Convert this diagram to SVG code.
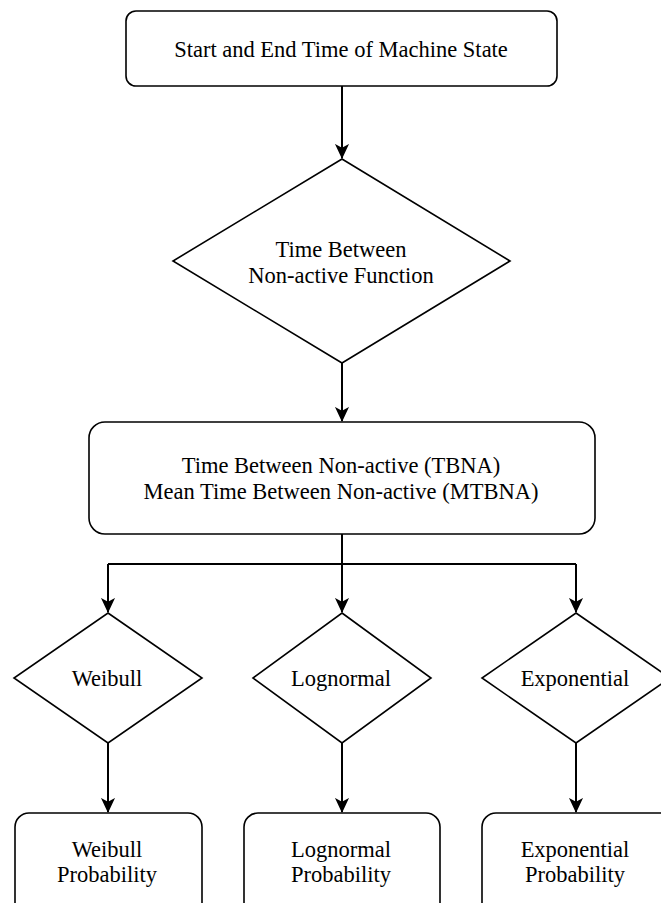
<svg xmlns="http://www.w3.org/2000/svg" width="661" height="903" viewBox="0 0 661 903">
<defs>
<marker id="arr" markerWidth="15" markerHeight="17" refX="15" refY="7.5" orient="auto" markerUnits="userSpaceOnUse" viewBox="0 0 16 15">
<path d="M0,0 L16,7.5 L0,15 L4,7.5 Z" fill="#000"/>
</marker>
</defs>
<style>
.n{fill:#fff;stroke:#000;stroke-width:1.6}
.t{font-family:"Liberation Serif","Times New Roman",serif;font-size:22.5px;fill:#000;text-anchor:middle}
.c{fill:none;stroke:#000;stroke-width:2}
</style>
<rect width="661" height="903" fill="#fff"/>
<g id="connectors">
<path class="c" d="M342,86 V158" marker-end="url(#arr)"/>
<path class="c" d="M342,363 V421" marker-end="url(#arr)"/>
<path class="c" d="M342,534 V612" marker-end="url(#arr)"/>
<path class="c" d="M108,564 H576"/>
<path class="c" d="M108,564 V612" marker-end="url(#arr)"/>
<path class="c" d="M576,564 V612" marker-end="url(#arr)"/>
<path class="c" d="M108,743 V812" marker-end="url(#arr)"/>
<path class="c" d="M342,743 V812" marker-end="url(#arr)"/>
<path class="c" d="M576,743 V812" marker-end="url(#arr)"/>
</g>
<g id="start">
<rect class="n" x="126" y="11" width="431" height="75" rx="10"/>
<text class="t" x="341" y="57">Start and End Time of Machine State</text>
</g>
<g id="tbnaFunction">
<polygon class="n" points="342,159 510,261 342,363 173,261"/>
<text class="t" x="341" y="257">Time Between</text>
<text class="t" x="341" y="283">Non-active Function</text>
</g>
<g id="tbna">
<rect class="n" x="89" y="422" width="506" height="112" rx="16"/>
<text class="t" x="341" y="473">Time Between Non-active (TBNA)</text>
<text class="t" x="341" y="499">Mean Time Between Non-active (MTBNA)</text>
</g>
<g id="weibull">
<polygon class="n" points="108,613 202,678 108,743 14,678"/>
<text class="t" x="107" y="686">Weibull</text>
</g>
<g id="lognormal">
<polygon class="n" points="342,613 431,678 342,743 253,678"/>
<text class="t" x="341" y="686">Lognormal</text>
</g>
<g id="exponential">
<polygon class="n" points="576,613 670,678 576,743 482,678"/>
<text class="t" x="575" y="686">Exponential</text>
</g>
<g id="weibullProb">
<rect class="n" x="15" y="813" width="187" height="110" rx="14"/>
<text class="t" x="107" y="857">Weibull</text>
<text class="t" x="107" y="882">Probability</text>
</g>
<g id="lognormalProb">
<rect class="n" x="244" y="813" width="196" height="110" rx="14"/>
<text class="t" x="341" y="857">Lognormal</text>
<text class="t" x="341" y="882">Probability</text>
</g>
<g id="exponentialProb">
<rect class="n" x="482" y="813" width="196" height="110" rx="14"/>
<text class="t" x="575" y="857">Exponential</text>
<text class="t" x="575" y="882">Probability</text>
</g>
</svg>
